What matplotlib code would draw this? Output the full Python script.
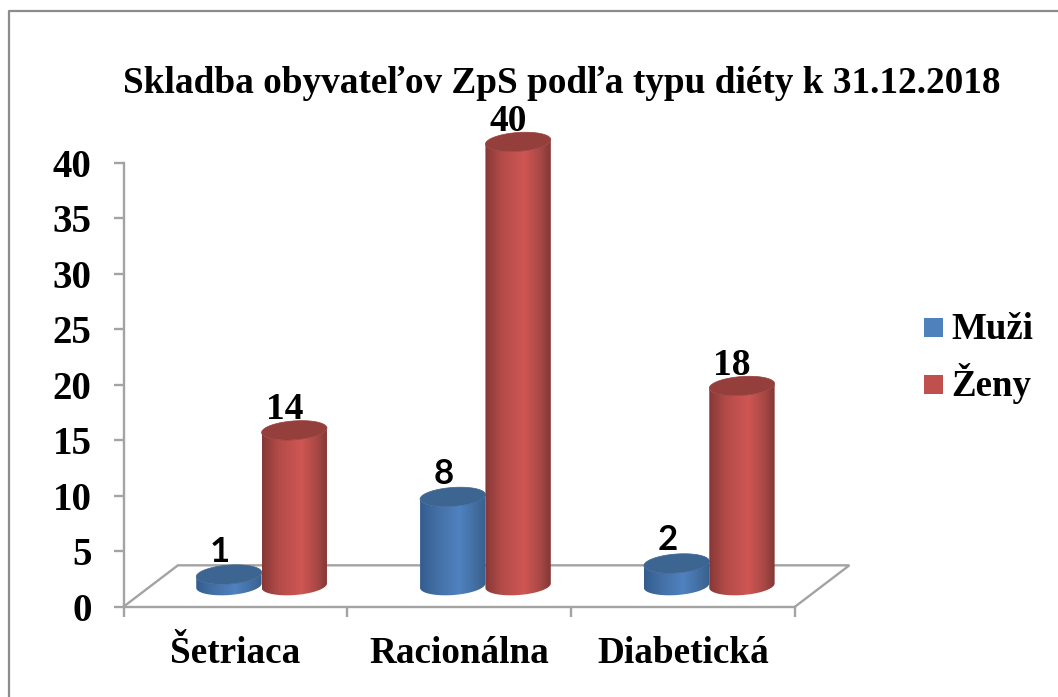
import numpy as np
import matplotlib
matplotlib.use("Agg")
import matplotlib.pyplot as plt
from matplotlib.path import Path
from matplotlib.patches import PathPatch, Patch, Rectangle
from matplotlib.colors import LinearSegmentedColormap
from matplotlib.lines import Line2D
from matplotlib.legend_handler import HandlerBase

categories = ["Šetriaca", "Racionálna", "Diabetická"]
series_names = ["Muži", "Ženy"]
muzi = [1, 8, 2]
zeny = [14, 40, 18]
y_ticks = [0, 5, 10, 15, 20, 25, 30, 35, 40]
title = "Skladba obyvateľov ZpS podľa typu diéty k 31.12.2018"

W, H = 1058, 697
SERIF = "Liberation Serif"
GRAY = "#a3a3a3"

fig = plt.figure(figsize=(W / 100, H / 100), dpi=100, facecolor="white")

def fx(px): return px / W
def fy(py): return 1 - py / H

# outer frame: only the top and left edges are visible in the crop
fig.add_artist(Line2D([fx(9), fx(9), fx(W)], [fy(H), fy(10.5), fy(10.5)],
                      color="#8c8c8c", lw=1.6, transform=fig.transFigure))

L, R, T, B = 123.5, 795, 163, 606.7
ax = fig.add_axes([fx(L), fy(B), fx(R) - fx(L), fy(T) - fy(B)])
ax.patch.set_alpha(0)

DX, DY = 0.243, 3.73           # floor depth in data units
CX, CY = 0.117, 1.90           # where the cylinders stand on the floor
WIDTH = 0.292
EA = WIDTH / 2
EB, ES = 0.85, 0.20            # ellipse half height and tilt

blue_cmap = LinearSegmentedColormap.from_list(
    "b", [(0, "#335d8e"), (0.25, "#436fa5"), (0.6, "#4f82c0"), (0.85, "#426d9f"), (1, "#37608f")])
red_cmap = LinearSegmentedColormap.from_list(
    "r", [(0, "#853836"), (0.25, "#b34b48"), (0.6, "#cf5653"), (0.85, "#a64744"), (1, "#823735")])
grad = np.linspace(0, 1, 256)[None, :]


def cylinder(xc, value, cmap, top_color, z):
    y0 = CY
    y1 = value + CY
    t = np.linspace(np.pi, 2 * np.pi, 60)
    low_x = xc + EA * np.cos(t)
    low_y = y0 + EB * np.sin(t) + ES * np.cos(t)
    up_y = y1 + EB * np.sin(t) + ES * np.cos(t)
    vx = np.r_[low_x, low_x[::-1], low_x[0]]
    vy = np.r_[low_y, up_y[::-1], low_y[0]]
    body = PathPatch(Path(np.c_[vx, vy]), fc="none", ec="none", zorder=z, clip_on=False)
    ax.add_patch(body)
    im = ax.imshow(grad, cmap=cmap, aspect="auto", zorder=z, interpolation="bilinear",
                   extent=[xc - EA, xc + EA, y0 - 2, y1 + 2])
    im.set_clip_box(fig.bbox)
    im.set_clip_path(body)
    tt = np.linspace(0, 2 * np.pi, 120)
    top = PathPatch(Path(np.c_[xc + EA * np.cos(tt), y1 + EB * np.sin(tt) + ES * np.cos(tt)]),
                    fc=top_color, ec=top_color, lw=0.5, zorder=z + 0.1, clip_on=False)
    ax.add_patch(top)


ax.plot([0, DX, 3 + DX, 3], [0, DY, DY, 0], color=GRAY, lw=1.7, clip_on=False, zorder=1,
        solid_joinstyle="miter")

for i, (m, f) in enumerate(zip(muzi, zeny)):
    xm = i + 0.5 - WIDTH / 2 + CX
    xf = i + 0.5 + WIDTH / 2 + CX
    cylinder(xm, m, blue_cmap, "#3d6591", 3)
    cylinder(xf, f, red_cmap, "#953f3d", 4)
    ax.annotate(str(m), (xm, m + CY), xytext=(-9, 13), textcoords="offset pixels",
                ha="center", va="baseline", family="Lato", weight="bold", fontsize=25,
                annotation_clip=False, zorder=6)
    ax.annotate(str(f), (xf, f + CY), xytext=(-10, 11), textcoords="offset pixels",
                ha="center", va="baseline", family=SERIF, weight="bold", fontsize=27,
                annotation_clip=False, zorder=6)

ax.set_xlim(0, 3)
ax.set_ylim(0, 40)
for s in ("top", "right"):
    ax.spines[s].set_visible(False)
for s in ("left", "bottom"):
    ax.spines[s].set_color(GRAY)
    ax.spines[s].set_linewidth(1.7)

ax.set_yticks(y_ticks)
ax.set_xticks([0, 1, 2, 3])
ax.set_xticklabels([])
ax.set_xticks([0.5, 1.5, 2.5], minor=True)
ax.set_xticklabels(categories, minor=True)
ax.tick_params(axis="x", which="major", length=7.5, width=1.7, color=GRAY)
ax.tick_params(axis="x", which="minor", length=0, pad=21, labelsize=26.7)
ax.tick_params(axis="y", length=7.5, width=1.7, color=GRAY, pad=15.5, labelsize=28)
for lab in ax.get_xticklabels(minor=True) + ax.get_yticklabels():
    lab.set_family(SERIF)
    lab.set_weight("bold")
    lab.set_color("black")

fig.text(fx(562), fy(93), title, ha="center", va="baseline", family=SERIF,
         weight="bold", fontsize=26.8)


class SquareHandler(HandlerBase):
    def create_artists(self, legend, orig_handle, xdescent, ydescent, width, height,
                       fontsize, trans):
        side = 13.7
        return [Rectangle((0, 1.4), side, side, fc=orig_handle.get_facecolor(),
                          ec="none", transform=trans)]


handles = [Patch(fc="#4f81bd", ec="none"), Patch(fc="#c0504d", ec="none")]
leg = fig.legend(handles, series_names, loc="upper left",
                 bbox_to_anchor=(fx(923.5), fy(312)), bbox_transform=fig.transFigure,
                 frameon=False, borderpad=0, borderaxespad=0, handlelength=0.52,
                 handleheight=0.52, handletextpad=0.24, labelspacing=0.44,
                 handler_map={Patch: SquareHandler()},
                 prop={"family": SERIF, "weight": "bold", "size": 26.6})

fig.savefig("out.png", dpi=100, facecolor="white")
